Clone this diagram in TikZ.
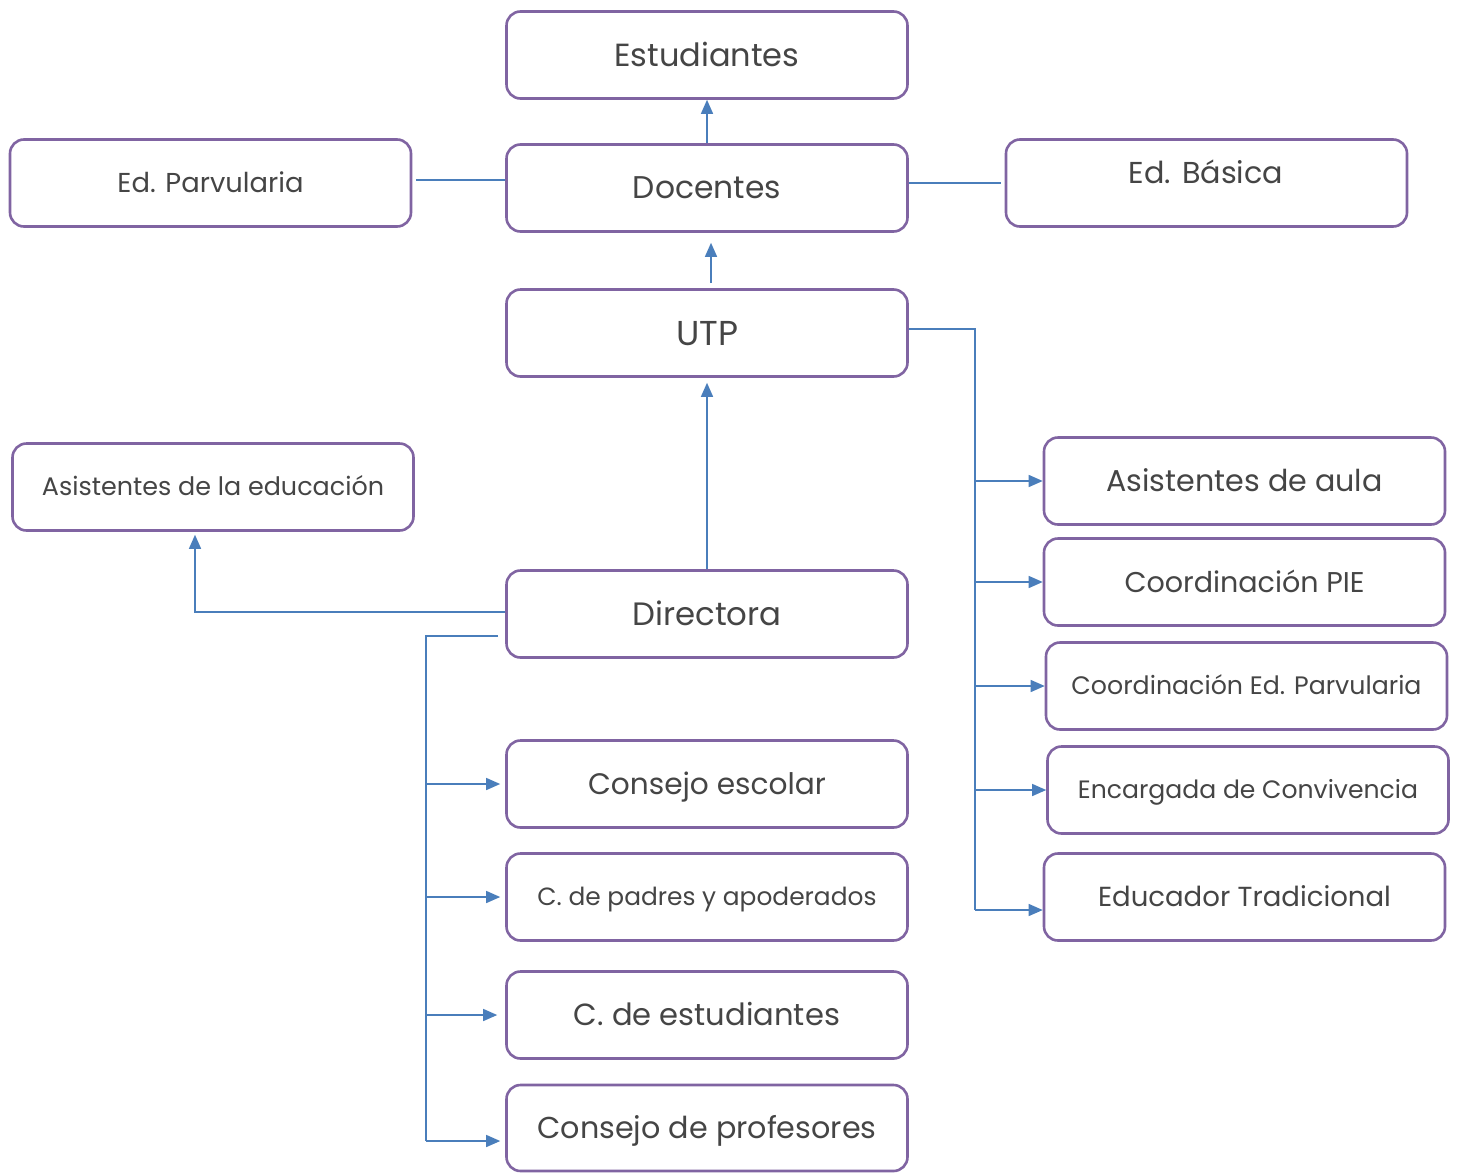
\documentclass[tikz,border=0pt]{standalone}
\usepackage{fontspec}
\setmainfont{Poppins}
\usetikzlibrary{arrows.meta}
\definecolor{boxc}{HTML}{8064A2}
\definecolor{linec}{HTML}{4A7EBB}
\definecolor{txt}{HTML}{454545}
\newcommand\fw[2]{\resizebox{#1pt}{!}{\raisebox{0pt}[0.7em][0pt]{#2}}}
\begin{document}
\begin{tikzpicture}[x=1pt,y=-1pt,
 box/.style={draw=boxc,line width=2.6pt,rounded corners=14pt,minimum width=401pt,minimum height=87pt,inner sep=0pt,text=txt,fill=white},
 conn/.style={draw=linec,line width=1.4pt},
 arr/.style={conn,-{Triangle[length=14pt,width=12pt]}}]
\useasboundingbox (0,0) rectangle (1458,1173);
\node[box] (est) at (707,55) {\fw{185}{Estudiantes}};
\node[box] (doc) at (707,188) {\fw{148}{Docentes}};
\node[box] (parv) at (210.5,183) {\fw{186}{Ed. Parvularia}};
\node[box] (bas) at (1206.5,183) {};
\node[text=txt,inner sep=0pt] (basT) at (1206,173) {\fw{154}{Ed. Básica}};
\node[box] (utp) at (707,333) {\fw{62}{UTP}};
\node[box] (ased) at (213,487) {\fw{342}{Asistentes de la educación}};
\node[box] (dir) at (707,614) {\fw{149}{Directora}};
\node[box] (cesc) at (707,784) {\fw{238}{Consejo escolar}};
\node[box] (cpad) at (707,897) {\fw{339}{C. de padres y apoderados}};
\node[box] (cest) at (707,1015) {\fw{266}{C. de estudiantes}};
\node[box,minimum height=86pt] (cprof) at (707,1128) {\fw{339}{Consejo de profesores}};
\node[box] (aula) at (1244.5,481) {\fw{276}{Asistentes de aula}};
\node[box] (pie) at (1244.5,582) {\fw{240}{Coordinación PIE}};
\node[box] (cep) at (1246.5,686) {\fw{350}{Coordinación Ed. Parvularia}};
\node[box] (conv) at (1248,790) {\fw{340}{Encargada de Convivencia}};
\node[box] (educ) at (1244.5,897) {\fw{293}{Educador Tradicional}};
% top connectors
\draw[arr] (doc.north) -- (est.south);
\draw[arr] ([xshift=4pt,yshift=5pt]utp.north) -- ([xshift=4pt,yshift=-10pt]doc.south);
\draw[arr] (dir.north) -- ([yshift=-5pt]utp.south);
\draw[conn] ([xshift=4pt,yshift=3pt]parv.east) -- ([yshift=8pt]doc.west);
\draw[conn] ([yshift=5pt]doc.east) -- ([xshift=-4pt]bas.west);
% right bus
\coordinate (rtop) at (975,329);
\coordinate (rbot) at (975,910);
\draw[conn] ([yshift=4pt]utp.east) -- (rtop) -- (rbot);
\draw[arr] (rtop |- aula.west) -- (aula.west);
\draw[arr] (rtop |- pie.west) -- (pie.west);
\draw[arr] (rtop |- cep.west) -- (cep.west);
\draw[arr] (rtop |- conv.west) -- (conv.west);
\draw[arr] (rbot) -- (educ.west |- rbot);
% left
\coordinate (lt) at (195,612);
\draw[arr] ([yshift=2pt]dir.west) -- (lt) -- ([xshift=-18pt,yshift=-3pt]ased.south);
\coordinate (btop) at (426,636);
\coordinate (bbot) at (426,1141);
\draw[conn] ([xshift=-7pt,yshift=-22pt]dir.west) -- (btop) -- (bbot);
\draw[arr] (btop |- cesc.west) -- ([xshift=-5pt]cesc.west);
\draw[arr] (btop |- cpad.west) -- ([xshift=-5pt]cpad.west);
\draw[arr] (btop |- cest.west) -- ([xshift=-8pt]cest.west);
\draw[arr] (bbot) -- ([xshift=-5pt]cprof.west |- bbot);
\end{tikzpicture}
\end{document}
